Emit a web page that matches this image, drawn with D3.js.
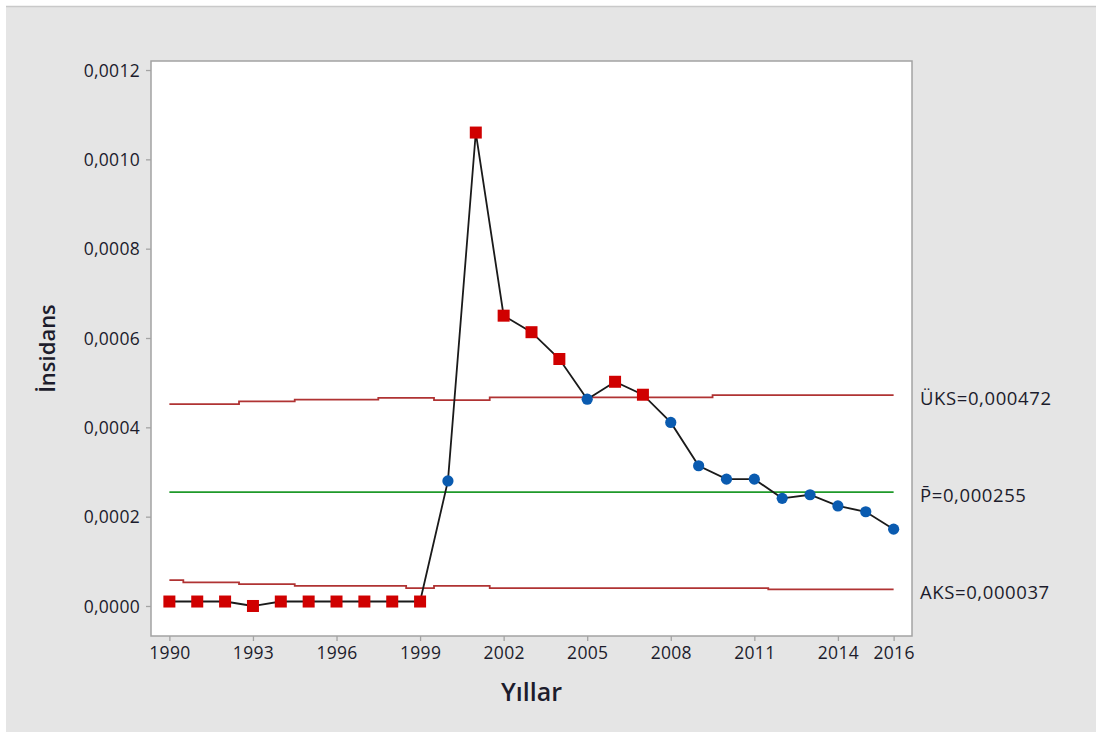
<!DOCTYPE html>
<html>
<head>
<meta charset="utf-8">
<script src="https://cdn.jsdelivr.net/npm/d3@7"></script>
<style>
  body { margin: 0; background: #fff; }
  svg text { font-family: "Open Sans", "Noto Sans", sans-serif; }
</style>
</head>
<body>
<svg id="chart" width="1096" height="733"></svg>
<script>
// yillar / insidans (p-chart)
var years = [1990, 1991, 1992, 1993, 1994, 1995, 1996, 1997, 1998, 1999,
             2000, 2001, 2002, 2003, 2004, 2005, 2006, 2007, 2008, 2009,
             2010, 2011, 2012, 2013, 2014, 2015, 2016];
var incidence = [0.00001, 0.00001, 0.00001, 0.0, 0.00001, 0.00001, 0.00001, 0.00001, 0.00001, 0.00001,
                 0.00028, 0.00106, 0.000650, 0.000613, 0.000553, 0.000463, 0.000502, 0.000473, 0.000411, 0.000314,
                 0.000284, 0.000284, 0.000241, 0.000249, 0.000224, 0.000211, 0.000172];
var ucl = [0.000452, 0.000452, 0.000452, 0.000458, 0.000458, 0.000462, 0.000462, 0.000462, 0.000466, 0.000466,
           0.000461, 0.000461, 0.000467, 0.000467, 0.000467, 0.000467, 0.000467, 0.000467, 0.000467, 0.000467,
           0.000472, 0.000472, 0.000472, 0.000472, 0.000472, 0.000472, 0.000472];
var lcl = [0.000058, 0.000053, 0.000053, 0.000049, 0.000049, 0.000045, 0.000045, 0.000045, 0.000045, 0.000040,
           0.000045, 0.000045, 0.000040, 0.000040, 0.000040, 0.000040, 0.000040, 0.000040, 0.000040, 0.000040,
           0.000040, 0.000040, 0.000037, 0.000037, 0.000037, 0.000037, 0.000037];
var pBar = 0.000255;
var xTicks = [1990, 1993, 1996, 1999, 2002, 2005, 2008, 2011, 2014, 2016];
var yTicks = [0, 0.0002, 0.0004, 0.0006, 0.0008, 0.0010, 0.0012];

var svg = d3.select("#chart");
var plot = { left: 151, right: 912, top: 61, bottom: 636 };

var trLocale = d3.formatLocale({ decimal: ",", thousands: ".", grouping: [3], currency: ["", ""] });
var fmtTick = trLocale.format(".4f");
var fmtLim = trLocale.format(".6f");

// background panel
svg.append("rect")
    .attr("x", 6).attr("y", 6)
    .attr("width", 1096).attr("height", 726)
    .attr("fill", "#e5e5e5");
svg.append("line")
    .attr("x1", 6).attr("x2", 1096)
    .attr("y1", 6.5).attr("y2", 6.5)
    .attr("stroke", "#c9c9c9").attr("stroke-width", 1.5);

var x = d3.scaleLinear()
    .domain([1989.34, 2016.66])
    .range([plot.left, plot.right]);

var y = d3.scaleLinear()
    .domain([-0.0000672, 0.0012202])
    .range([plot.bottom, plot.top]);

// plot area
svg.append("rect")
    .attr("x", plot.left).attr("y", plot.top)
    .attr("width", plot.right - plot.left)
    .attr("height", plot.bottom - plot.top)
    .attr("fill", "white")
    .attr("stroke", "#a3a3a3")
    .attr("stroke-width", 1.5);

// axes
var xAxis = svg.append("g")
    .attr("transform", "translate(0," + plot.bottom + ")")
    .call(d3.axisBottom(x).tickValues(xTicks).tickFormat(d3.format("d")).tickSize(5).tickSizeOuter(0).tickPadding(6));

var yAxis = svg.append("g")
    .attr("transform", "translate(" + plot.left + ",0)")
    .call(d3.axisLeft(y).tickValues(yTicks).tickFormat(fmtTick).tickSize(5).tickSizeOuter(0).tickPadding(6));

[xAxis, yAxis].forEach(function(a) {
  a.select(".domain").remove();
  a.selectAll("line").attr("stroke", "#a3a3a3").attr("stroke-width", 1.3);
  a.selectAll("text")
    .style("font-size", "17.5px")
    .style("letter-spacing", "0.3px")
    .attr("fill", "#1c1c2c");
});
yAxis.selectAll("text").attr("dy", "0.36em");

// control limits
var rows = years.map(function(yr, i) {
  return { year: yr, value: incidence[i], ucl: ucl[i], lcl: lcl[i] };
});

var stepLine = function(key) {
  return d3.line()
    .x(function(d) { return x(d.year); })
    .y(function(d) { return y(d[key]); })
    .curve(d3.curveStep);
};

svg.append("path")
    .datum(rows)
    .attr("fill", "none")
    .attr("stroke", "#b03333")
    .attr("stroke-width", 1.8)
    .attr("d", stepLine("ucl"));

svg.append("path")
    .datum(rows)
    .attr("fill", "none")
    .attr("stroke", "#b03333")
    .attr("stroke-width", 1.8)
    .attr("d", stepLine("lcl"));

svg.append("line")
    .attr("x1", x(years[0])).attr("x2", x(years[years.length - 1]))
    .attr("y1", y(pBar)).attr("y2", y(pBar))
    .attr("stroke", "#1f9a2a")
    .attr("stroke-width", 1.8);

// data line
svg.append("path")
    .datum(rows)
    .attr("fill", "none")
    .attr("stroke", "#1a1a1a")
    .attr("stroke-width", 1.8)
    .attr("d", d3.line()
        .x(function(d) { return x(d.year); })
        .y(function(d) { return y(d.value); }));

var isOut = function(d) { return d.value > d.ucl || d.value < d.lcl; };

svg.selectAll("rect.out")
    .data(rows.filter(isOut))
    .enter()
      .append("rect")
      .attr("class", "out")
      .attr("x", function(d) { return x(d.year) - 6; })
      .attr("y", function(d) { return y(d.value) - 6; })
      .attr("width", 12)
      .attr("height", 12)
      .attr("fill", "#d00000");

svg.selectAll("circle.in")
    .data(rows.filter(function(d) { return !isOut(d); }))
    .enter()
      .append("circle")
      .attr("class", "in")
      .attr("cx", function(d) { return x(d.year); })
      .attr("cy", function(d) { return y(d.value); })
      .attr("r", 5.6)
      .attr("fill", "#0a5bb0");

// limit labels
var last = rows[rows.length - 1];
var labels = [
  { text: "ÜKS=" + fmtLim(last.ucl), v: last.ucl },
  { text: "P\u0304=" + fmtLim(pBar), v: pBar },
  { text: "AKS=" + fmtLim(last.lcl), v: last.lcl }
];
svg.selectAll("text.lim")
    .data(labels)
    .enter()
      .append("text")
      .attr("class", "lim")
      .attr("x", 920)
      .attr("y", function(d) { return y(d.v) + 3; })
      .attr("dy", "0.35em")
      .style("font-size", "18.5px")
      .style("letter-spacing", "0.6px")
      .attr("fill", "#1c1c2c")
      .text(function(d) { return d.text; });

// axis titles
svg.append("text")
    .attr("x", (plot.left + plot.right) / 2)
    .attr("y", 701)
    .attr("text-anchor", "middle")
    .style("font-size", "25px")
    .style("font-weight", 600)
    .attr("fill", "#1c1c2c")
    .text("Yıllar");

svg.append("text")
    .attr("transform", "translate(55," + ((plot.top + plot.bottom) / 2) + ") rotate(-90)")
    .attr("text-anchor", "middle")
    .style("font-size", "22px")
    .style("font-weight", 600)
    .attr("fill", "#1c1c2c")
    .text("İnsidans");
</script>
</body>
</html>
